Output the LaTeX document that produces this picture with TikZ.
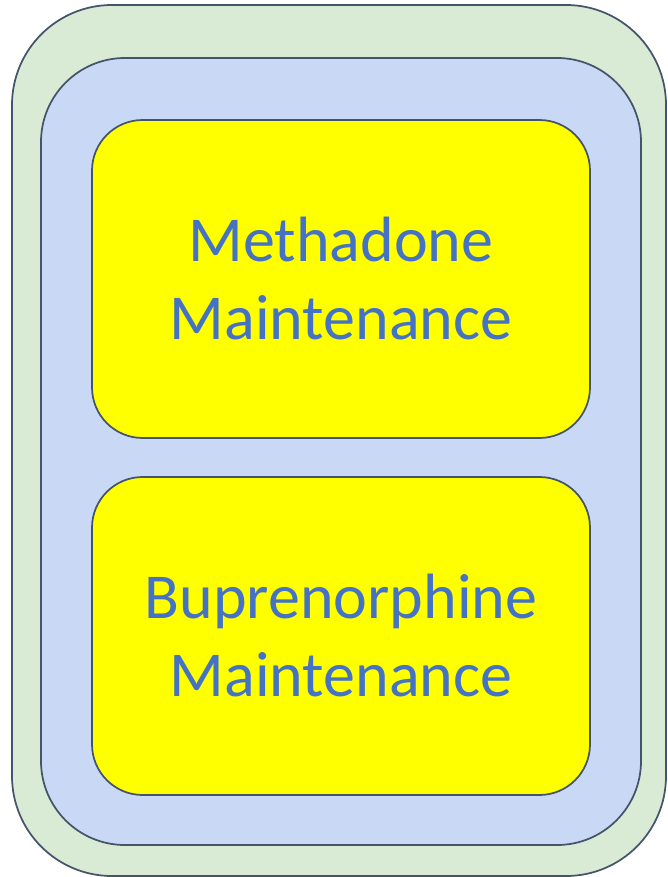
\documentclass[tikz,border=0pt]{standalone}
\usepackage{fontspec}
\setmainfont{Carlito}
\usepackage{xcolor}
\usepackage{tikz}
\definecolor{edge}{HTML}{44546A}
\definecolor{outerbg}{HTML}{D9EAD5}
\definecolor{innerbg}{HTML}{C9D9F5}
\definecolor{boxbg}{HTML}{FFFF00}
\definecolor{label}{HTML}{4472C4}
\tikzset{
  frame/.style={draw=edge, line width=1.3pt, line join=round},
  outer/.style={frame, fill=outerbg, rounded corners=75pt},
  inner/.style={frame, fill=innerbg, rounded corners=63pt},
  treat/.style={frame, fill=boxbg, rounded corners=38pt,
    minimum width=373.5pt, minimum height=238.5pt, inner sep=0pt,
    align=center, text=label, font=\fontsize{48}{58.5}\selectfont},
}

\begin{document}
\begin{tikzpicture}[x=0.75pt,y=-0.75pt]
  \useasboundingbox (0,0) rectangle (667,877);

  \draw[outer] (12,5) rectangle (666,876);
  \draw[inner] (41,58) rectangle (641,845);

  \node[treat] (methadone) at (341,279) {Methadone\\Maintenance};
  \node[treat] (bupren) at (341,636) {Buprenorphine\\Maintenance};
\end{tikzpicture}
\end{document}
